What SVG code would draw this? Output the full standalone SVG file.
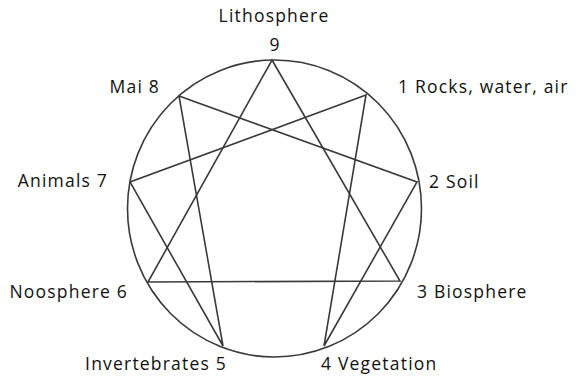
<svg xmlns="http://www.w3.org/2000/svg" width="576" height="377" viewBox="0 0 576 377">
<style>
.ln{fill:none;stroke:#3a3a3a;stroke-width:1.6;stroke-linejoin:miter}
.t{font-family:"Open Sans","Noto Sans",sans-serif;font-size:17.5px;fill:#111;letter-spacing:1.2px}
</style>
<rect width="576" height="377" fill="#fff"/>
<g id="circle"><ellipse class="ln" cx="274.5" cy="208.5" rx="147" ry="148.5"/></g>
<g id="connectors">
<polygon class="ln" points="272,60 400,281 148,282"/>
<polygon class="ln" points="366,95 324,346 417,182 179,96 223,346 130,182"/>
</g>
<g id="n9"><text class="t" x="274" y="22" text-anchor="middle">Lithosphere</text><text class="t" x="275" y="51" text-anchor="middle">9</text></g>
<g id="n1"><text class="t" x="398" y="93">1 Rocks, water, air</text></g>
<g id="n2"><text class="t" x="429" y="188">2 Soil</text></g>
<g id="n3"><text class="t" x="417" y="298">3 Biosphere</text></g>
<g id="n4"><text class="t" x="321" y="370">4 Vegetation</text></g>
<g id="n5"><text class="t" x="227" y="370" text-anchor="end">Invertebrates 5</text></g>
<g id="n6"><text class="t" x="128" y="298" text-anchor="end">Noosphere 6</text></g>
<g id="n7"><text class="t" x="108" y="187" text-anchor="end">Animals 7</text></g>
<g id="n8"><text class="t" x="160" y="93" text-anchor="end">Mai 8</text></g>
</svg>
